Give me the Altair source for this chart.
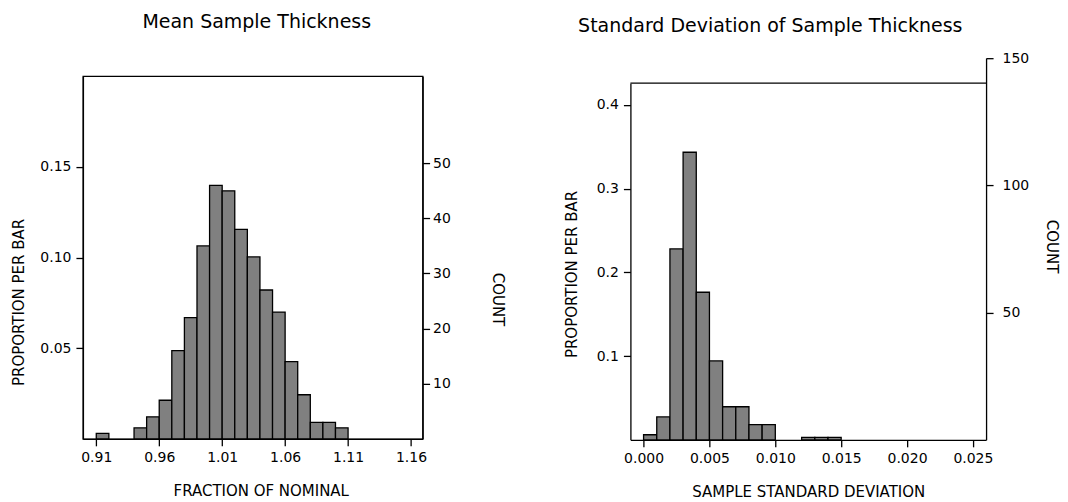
import altair as alt
import pandas as pd

FONT = "DejaVu Sans"

# ---- Left panel: mean sample thickness (fraction of nominal), bin width 0.01
mean_bin_start = [0.91, 0.92, 0.93, 0.94, 0.95, 0.96, 0.97, 0.98, 0.99, 1.00,
                  1.01, 1.02, 1.03, 1.04, 1.05, 1.06, 1.07, 1.08, 1.09, 1.10]
mean_counts = [1, 0, 0, 2, 4, 7, 16, 22, 35, 46, 45, 38, 33, 27, 23, 14, 8, 3, 3, 2]
mean_bin_width = 0.01
mean_x_ticks = [0.91, 0.96, 1.01, 1.06, 1.11, 1.16]
mean_prop_ticks = [0.05, 0.10, 0.15]
mean_count_ticks = [10, 20, 30, 40, 50]

# ---- Right panel: standard deviation of sample thickness, bin width 0.001
sd_bin_start = [0.000, 0.001, 0.002, 0.003, 0.004, 0.005, 0.006, 0.007,
                0.008, 0.009, 0.010, 0.011, 0.012, 0.013, 0.014]
sd_counts = [2, 9, 75, 113, 58, 31, 13, 13, 6, 6, 0, 0, 1, 1, 1]
sd_bin_width = 0.001
sd_x_ticks = [0.000, 0.005, 0.010, 0.015, 0.020, 0.025]
sd_prop_ticks = [0.1, 0.2, 0.3, 0.4]
sd_count_ticks = [50, 100, 150]

STROKE = 1.3


def panel(starts, counts, bin_w, xdom, xticks, xfmt, xtitle, ymax, yticks, yfmt,
          cticks, cmax, W, H, frame_top, ctop, title, title_dx, title_offset,
          ytitle_y, ytitle_pad, ctitle_y, ctitle_pad, clabel_pad, xtitle_x, own_frame):
    n = sum(counts)
    df = pd.DataFrame({"start": starts, "count": counts})
    df["end"] = df["start"] + bin_w
    df["prop"] = df["count"] / n
    df["base"] = 0.0
    df = df[df["count"] > 0]
    xscale = alt.Scale(domain=xdom, nice=False, zero=False)
    xaxis_kw = dict(values=xticks, format=xfmt, title=xtitle, titlePadding=19,
                    labelPadding=5)
    if xtitle_x is not None:
        xaxis_kw["titleX"] = xtitle_x
    pscale = alt.Scale(domain=[0, ymax], nice=False, zero=True, range=[H, frame_top])
    bars = alt.Chart(df).mark_bar(fill="#808080", stroke="black", strokeWidth=STROKE).encode(
        x=alt.X("start:Q", scale=xscale, axis=alt.Axis(**xaxis_kw)),
        x2="end:Q",
        y=alt.Y("prop:Q", scale=pscale,
                axis=alt.Axis(values=yticks, format=yfmt, title="PROPORTION PER BAR",
                              titleY=ytitle_y, titlePadding=ytitle_pad, labelPadding=5)),
        y2="base:Q",
    )
    cscale = alt.Scale(domain=[0, cmax], nice=False, zero=True, range=[H, ctop])
    cnt = alt.Chart(df).mark_point(opacity=0).encode(
        y=alt.Y("count:Q", scale=cscale,
                axis=alt.Axis(orient="right", values=cticks, format="d", title="COUNT",
                              titleY=ctitle_y, titlePadding=ctitle_pad,
                              labelPadding=clabel_pad)),
    )
    layers = [bars, cnt]
    props = dict(width=W, height=H,
                 title=alt.TitleParams(title, dx=title_dx, offset=title_offset, frame="group"))
    if own_frame:
        top_df = pd.DataFrame({"top": [ymax]})
        top_line = alt.Chart(top_df).mark_rule(color="black", strokeWidth=STROKE).encode(
            y=alt.Y("top:Q", scale=pscale, axis=None)
        )
        layers.append(top_line)
        props["view"] = alt.ViewBackground(stroke="transparent")
    return alt.layer(*layers).resolve_scale(y="independent").properties(**props)


W1, H1 = 340, 363
mean_ymax = 0.2
left = panel(mean_bin_start, mean_counts, mean_bin_width, [0.8994, 1.1692], mean_x_ticks,
             ".2f", "FRACTION OF NOMINAL", mean_ymax, mean_prop_ticks, ".2f",
             mean_count_ticks, mean_ymax * sum(mean_counts), W1, H1, 0, 0,
             "Mean Sample Thickness", 4, 44, 226, 13, 223, 39, 3, 178, False)

W2, H2 = 356, 364
frame_top2 = 7
sd_ymax = 0.426
sd_cmax = 150
sd_ctop = H2 - sd_cmax / (sd_ymax * sum(sd_counts)) * (H2 - frame_top2)
right = panel(sd_bin_start, sd_counts, sd_bin_width, [-0.001, 0.026], sd_x_ticks,
              ".3f", "SAMPLE STANDARD DEVIATION", sd_ymax, sd_prop_ticks, ".1f",
              sd_count_ticks, sd_cmax, W2, H2, frame_top2, sd_ctop,
              "Standard Deviation of Sample Thickness", -38, 15, 198, 17, 170, 15, 9,
              None, True)

chart = alt.hconcat(left, right, spacing=58).properties(
    padding={"left": 3, "top": 4, "right": 0, "bottom": 0}
).configure_axis(
    domainColor="black", tickColor="black", labelColor="black", titleColor="black",
    grid=False, labelFont=FONT, titleFont=FONT, labelFontSize=14, titleFontSize=15,
    titleFontWeight="normal", tickSize=7, domainWidth=STROKE, tickWidth=STROKE,
).configure_view(stroke="black", strokeWidth=STROKE).configure_title(
    font=FONT, fontSize=19, fontWeight="normal", color="black"
)

chart.save("out.html", embed_options={"renderer": "svg", "actions": False})
